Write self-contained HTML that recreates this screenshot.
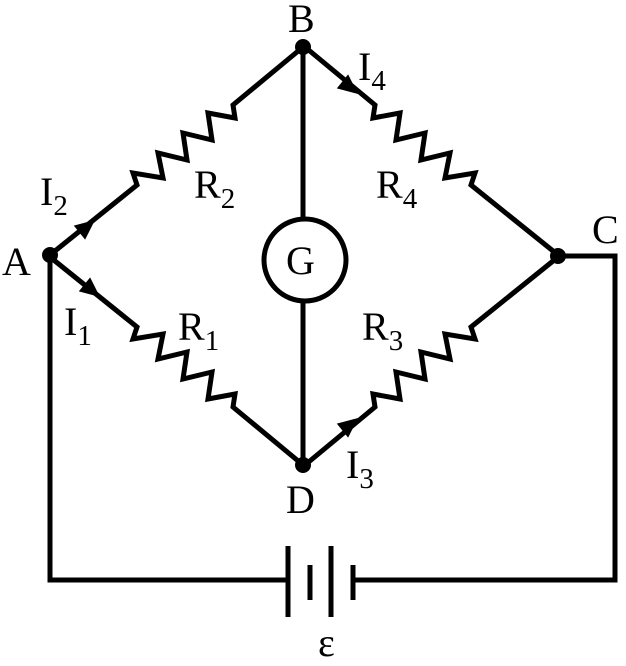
<!DOCTYPE html>
<html><head><style>body{margin:0;background:#fff}svg{display:block}text{font-family:"Liberation Serif",serif;font-size:40px;fill:#000}tspan.s{font-size:29px}</style></head>
<body>
<svg width="626" height="666" viewBox="0 0 626 666">
<defs>
<g id="r"><polyline points="50,255 137,185 133,173 163,178 158,153 187,160 183,133 212,140 208,113 235,118 233,105 303,47" fill="none" stroke="#000" stroke-width="5" stroke-linejoin="miter"/></g>
</defs>
<use href="#r"/>
<use href="#r" transform="matrix(1,0,0,-1,0,512)"/>
<use href="#r" transform="matrix(-1,0,0,1,608,0)"/>
<use href="#r" transform="matrix(-1,0,0,-1,608,512)"/>
<g stroke="#000" stroke-width="5" fill="none">
<line x1="303" y1="47" x2="303" y2="218"/>
<line x1="303" y1="302" x2="303" y2="465"/>
<circle cx="305" cy="260" r="41"/>
<polyline points="558,256 615,256 615,580 353,580"/>
<polyline points="50,255 50,580 288,580"/>
<line x1="288" y1="546" x2="288" y2="617"/>
<line x1="331" y1="546" x2="331" y2="617"/>
<line x1="310" y1="565" x2="310" y2="600"/>
<line x1="353" y1="565" x2="353" y2="600"/>
</g>
<g fill="#000">
<circle cx="50" cy="255" r="8"/><circle cx="303" cy="47" r="8"/><circle cx="558" cy="256" r="8"/><circle cx="303" cy="465" r="8"/>
<polygon points="0,0 -20,-9 -20,9" transform="translate(95,220) rotate(-39)"/>
<polygon points="0,0 -20,-9 -20,9" transform="translate(100,297) rotate(39)"/>
<polygon points="0,0 -20,-9 -20,9" transform="translate(358,94) rotate(39)"/>
<polygon points="0,0 -20,-9 -20,9" transform="translate(358,418) rotate(-39)"/>
</g>
<text x="288" y="32">B</text>
<text x="358" y="80">I<tspan class="s" dy="10">4</tspan></text>
<text x="40" y="205">I<tspan class="s" dy="10">2</tspan></text>
<text x="194" y="198">R<tspan class="s" dy="10">2</tspan></text>
<text x="376" y="198">R<tspan class="s" dy="10">4</tspan></text>
<text x="592" y="243">C</text>
<text x="2" y="275">A</text>
<text x="64" y="335">I<tspan class="s" dy="10">1</tspan></text>
<text x="178" y="340">R<tspan class="s" dy="10">1</tspan></text>
<text x="362" y="340">R<tspan class="s" dy="10">3</tspan></text>
<text x="286" y="513">D</text>
<text x="346" y="478">I<tspan class="s" dy="10">3</tspan></text>
<text x="286" y="274">G</text>
<text x="318" y="656">ε</text>
</svg>
</body></html>
